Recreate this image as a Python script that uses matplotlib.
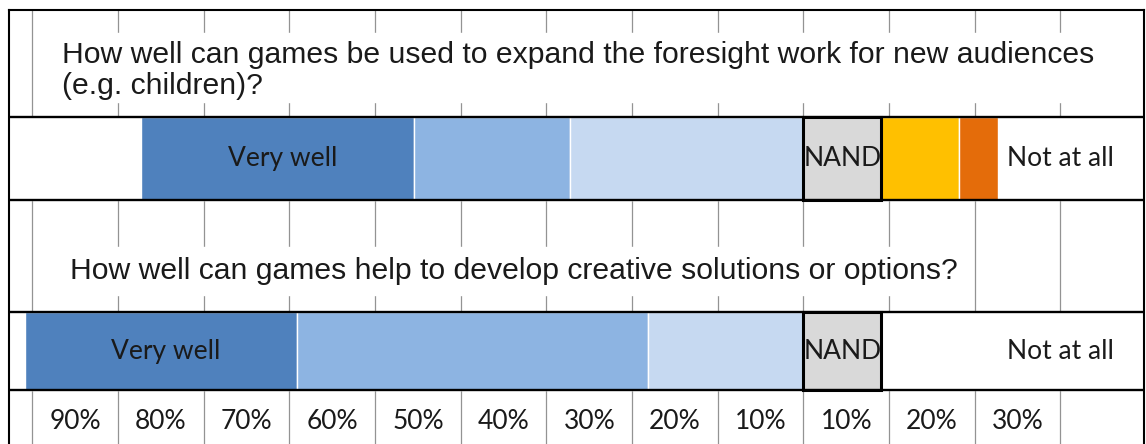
import matplotlib.pyplot as plt
from matplotlib.patches import Rectangle

# answer levels, left to right (share of respondents, %)
levels = ['Very well', 'Well', 'Somewhat', 'NAND', 'Not very well', 'Poorly']
colors = ['#4F81BD', '#8DB4E2', '#C6D9F1', '#D9D9D9', '#FFC000', '#E46C0A']
questions = [
    'How well can games be used to expand the foresight work for new audiences\n(e.g. children)?',
    'How well can games help to develop creative solutions or options?',
]
share_q1 = [31.8, 18.2, 27.3, 9.1, 9.1, 4.5]
share_q2 = [31.8, 40.9, 18.2, 9.1, 0.0, 0.0]
tick_labels = ['90%', '80%', '70%', '60%', '50%', '40%', '30%', '20%', '10%',
               '10%', '20%', '30%']
grid_x = list(range(-90, 40, 10))

W, H = 1146, 444
fig = plt.figure(figsize=(W / 100, H / 100), dpi=100)
ax = fig.add_axes([9 / W, 0, (1144 - 9) / W, (H - 10) / H])
ax.set_xlim(-92.74, 39.75)
ax.set_ylim(H, 10)
ax.set_xticks([])
ax.set_yticks([])
for s in ['left', 'right', 'top']:
    ax.spines[s].set_linewidth(1.5)
ax.spines['bottom'].set_visible(False)

qfont = dict(family='Liberation Sans', size=21.7, color='#1a1a1a')
lfont = dict(family='Lato', size=19, color='#1a1a1a')

# vertical grid behind everything
for gx in grid_x:
    ax.axvline(gx, color='#939393', lw=0.9, zorder=0)

# white boxes holding the question text
ax.add_patch(Rectangle((-89, 33), 127, 69, color='white', zorder=1))
ax.add_patch(Rectangle((-88.5, 247), 108, 48, color='white', zorder=1))
q_lines = [(questions[0], -86.5, 63), (questions[1], -85.6, 279)]
for text, qx, qy in q_lines:
    for k, line in enumerate(text.split('\n')):
        ax.text(qx, qy + 31 * k, line, va='baseline', ha='left', zorder=2,
                **qfont)

rows = [(share_q1, 117, 200), (share_q2, 312, 390)]
for shares, top, bottom in rows:
    mid = (top + bottom) / 2
    h = bottom - top
    ax.add_patch(Rectangle((-100, top), 150, h, color='white', zorder=2))
    # positive answers stack leftwards from zero
    left = -sum(shares[:3])
    for i in range(3):
        ax.barh(mid, shares[i], left=left, height=h, color=colors[i],
                edgecolor='white', lw=1, zorder=3)
        if i == 0:
            ax.text(left + shares[i] / 2 + 0.6, mid, levels[0], ha='center',
                    va='center', zorder=5, **lfont)
        left += shares[i]
    # neutral box, then negative answers
    ax.barh(mid, shares[3], left=0, height=h, color=colors[3],
            edgecolor='black', lw=2.2, zorder=4)
    ax.text(shares[3] / 2, mid, levels[3], ha='center', va='center',
            zorder=5, **lfont)
    left = shares[3]
    for i in range(4, 6):
        if shares[i] > 0:
            ax.barh(mid, shares[i], left=left, height=h, color=colors[i],
                    edgecolor='white', lw=1, zorder=3)
        left += shares[i]
    ax.text(30, mid, 'Not at all', ha='center', va='center', zorder=5, **lfont)
    for y in (top, bottom):
        ax.axhline(y, color='black', lw=1.7, zorder=6)

# percentage labels sit between the grid lines
for gx, lab in zip(grid_x[:-1], tick_labels):
    ax.text(gx + 5, 421, lab, ha='center', va='center', **lfont)

fig.savefig('out.png', dpi=100)
